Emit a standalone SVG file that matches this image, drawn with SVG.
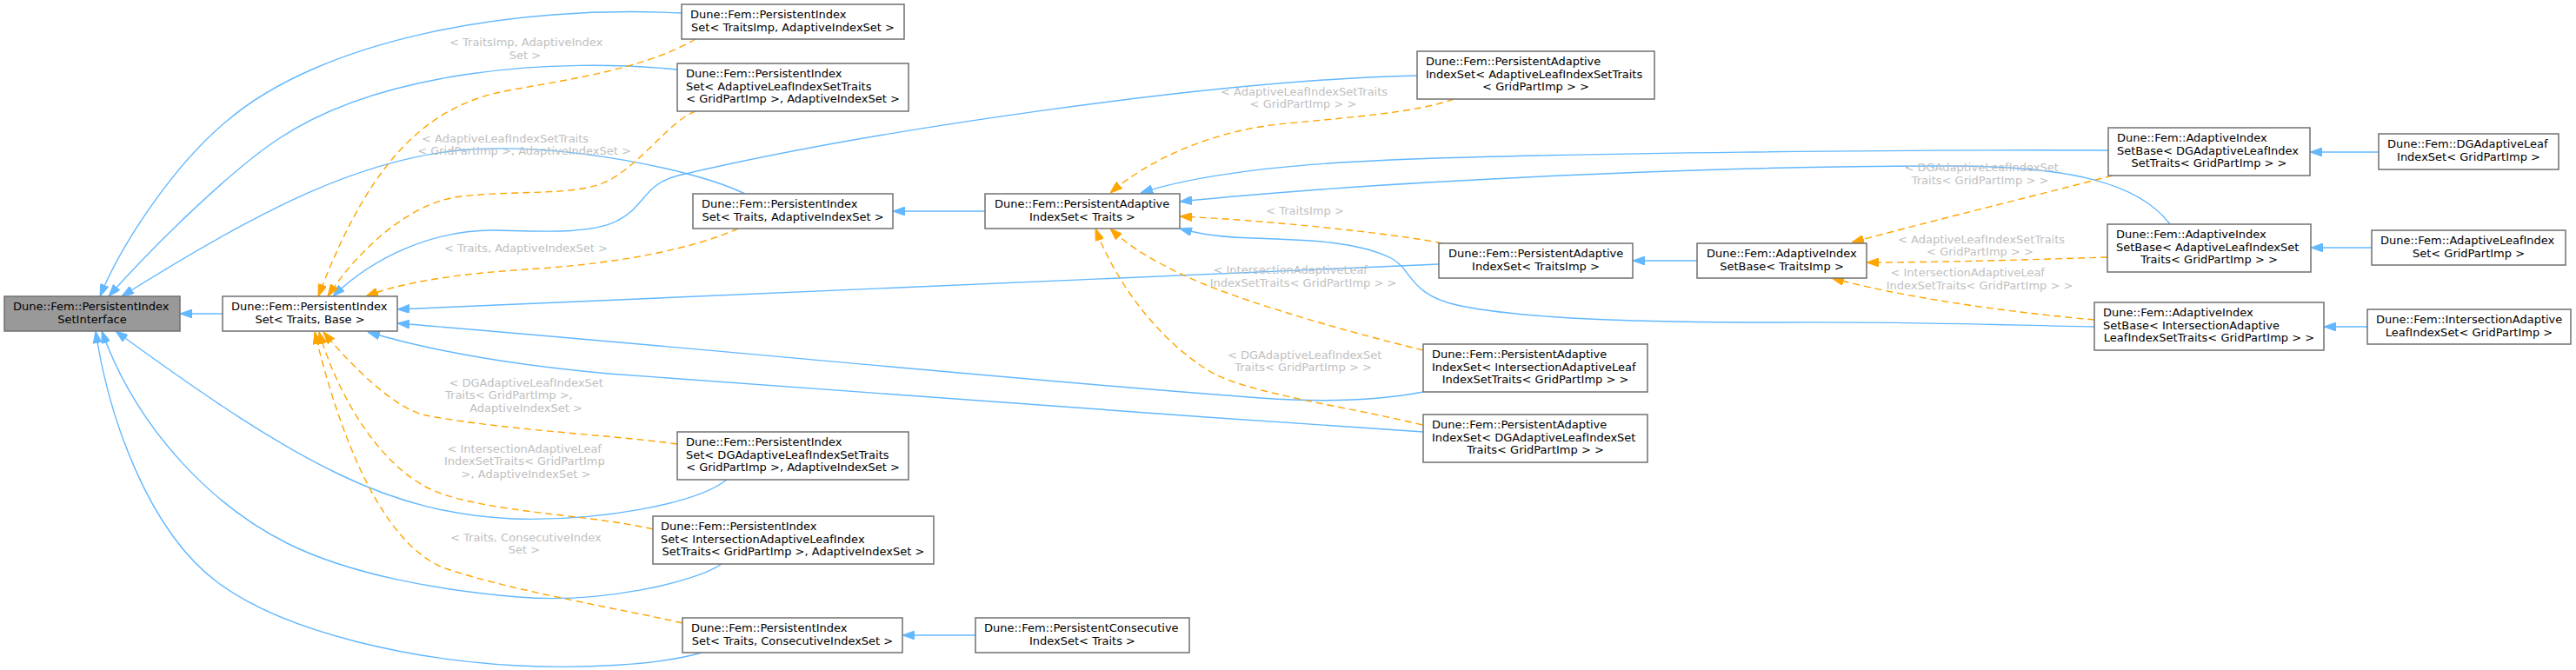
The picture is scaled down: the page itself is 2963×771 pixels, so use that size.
<svg xmlns="http://www.w3.org/2000/svg" width="2963" height="771" viewBox="0 0 2963 771">
<style>
.node rect{fill:#ffffff;stroke:#707070;stroke-width:1.5}
.node.main rect{fill:#999999}
text{font-family:"DejaVu Sans","Liberation Sans",sans-serif;font-size:13px;fill:#000000}
.mid{text-anchor:middle}
.lbl text{fill:#C0C0C0}
.e{fill:none;stroke:#63B8FF;stroke-width:1.4;marker-end:url(#ab)}
.t{fill:none;stroke:#FFA500;stroke-width:1.4;stroke-dasharray:8,5;marker-end:url(#ao)}
</style>
<defs>
<marker id="ab" viewBox="0 0 14 10" refX="14" refY="5" markerWidth="14" markerHeight="10" markerUnits="userSpaceOnUse" orient="auto"><path d="M0,0 L14,5 L0,10 Z" fill="#63B8FF" stroke="#63B8FF" stroke-width="1"/></marker>
<marker id="ao" viewBox="0 0 14 10" refX="14" refY="5" markerWidth="14" markerHeight="10" markerUnits="userSpaceOnUse" orient="auto"><path d="M0,0 L14,5 L0,10 Z" fill="#FFA500" stroke="#FFA500" stroke-width="1"/></marker>
</defs>
<rect x="0" y="0" width="2963" height="771" fill="#ffffff"/>
<g id="connectors">
<path class="e" d="M256,361 L207,361"/>
<path class="e" d="M784,15 C590,5 370,45 260,140 C200,190 140,280 115,341"/>
<path class="e" d="M779,80 C640,66 440,80 320,160 C260,200 170,290 125,341"/>
<path class="e" d="M857,223 C800,195 650,165 540,172 C420,180 300,240 140,341"/>
<path class="e" d="M836,552 C800,580 690,600 590,597 C450,590 350,540 133,381"/>
<path class="e" d="M830,649 C800,670 690,695 596,687 C500,679 400,660 330,625 C250,585 160,500 117,381"/>
<path class="e" d="M807,751 C760,765 670,770 596,766 C480,760 330,730 250,670 C170,610 125,480 110,381"/>
<path class="e" d="M1630,87 C1400,92 1000,150 780,202 C740,212 742,238 710,254 C680,270 620,266 570,265 C500,264 430,295 383,341"/>
<path class="e" d="M1133,243 L1027,243"/>
<path class="e" d="M1655,304 L457,356"/>
<path class="e" d="M1637,451 C1580,462 1520,463 1450,458 C1200,440 800,400 457,372"/>
<path class="e" d="M1637,497 C1300,474 900,447 700,430 C600,421 500,405 423,382"/>
<path class="e" d="M2425,173 C2200,172 1800,176 1600,184 C1480,189 1380,200 1312,222"/>
<path class="e" d="M2496,258 C2460,210 2380,192 2250,191 C2000,190 1600,207 1357,232"/>
<path class="e" d="M2409,376 C2300,374 2200,370 2050,371 C1900,371 1760,368 1680,352 C1620,340 1625,310 1600,297 C1560,277 1500,276 1440,274 C1400,273 1375,268 1357,263"/>
<path class="e" d="M1952,300 L1878,300"/>
<path class="e" d="M2736,175 L2657,175"/>
<path class="e" d="M2728,285 L2658,285"/>
<path class="e" d="M2723,376 L2673,376"/>
<path class="e" d="M1122,731 L1038,731"/>
<path class="t" d="M800,45 C740,80 650,92 580,105 C480,125 420,200 366,341"/>
<path class="t" d="M800,128 C770,140 745,180 705,205 C670,227 600,218 530,226 C470,233 410,290 377,341"/>
<path class="t" d="M849,263 C800,285 720,302 620,309 C540,314 470,322 421,341"/>
<path class="t" d="M779,511 C700,500 580,495 490,478 C450,470 395,410 372,382"/>
<path class="t" d="M751,609 C680,592 560,590 500,565 C440,540 390,460 367,382"/>
<path class="t" d="M785,717 C720,702 590,680 515,655 C440,630 390,500 362,382"/>
<path class="t" d="M1672,114 C1630,130 1540,136 1470,143 C1390,152 1320,185 1277,222"/>
<path class="t" d="M1659,280 C1600,268 1450,253 1357,249"/>
<path class="t" d="M1637,403 C1550,382 1440,350 1380,325 C1330,303 1300,285 1277,263"/>
<path class="t" d="M1636,489 C1560,470 1450,455 1400,432 C1340,400 1285,330 1260,263"/>
<path class="t" d="M2430,202 C2330,228 2230,252 2130,279"/>
<path class="t" d="M2424,296 C2330,299 2230,302 2147,302"/>
<path class="t" d="M2409,368 C2320,360 2200,345 2107,320"/>
<g class="lbl">
<text x="517" y="53.3">&lt; TraitsImp, AdaptiveIndex</text>
<text class="mid" x="604" y="67.7">Set &gt;</text>
<text x="485" y="164">&lt; AdaptiveLeafIndexSetTraits</text>
<text class="mid" x="603" y="178.3">&lt; GridPartImp &gt;, AdaptiveIndexSet &gt;</text>
<text class="mid" x="605" y="290.3">&lt; Traits, AdaptiveIndexSet &gt;</text>
<text x="516.5" y="445">&lt; DGAdaptiveLeafIndexSet</text>
<text x="512" y="459.3">Traits&lt; GridPartImp &gt;,</text>
<text class="mid" x="605" y="474">AdaptiveIndexSet &gt;</text>
<text x="514.5" y="520.7">&lt; IntersectionAdaptiveLeaf</text>
<text x="511" y="535.3">IndexSetTraits&lt; GridPartImp</text>
<text class="mid" x="605" y="550">&gt;, AdaptiveIndexSet &gt;</text>
<text x="518" y="622.7">&lt; Traits, ConsecutiveIndex</text>
<text class="mid" x="603" y="637">Set &gt;</text>
<text x="1404" y="110">&lt; AdaptiveLeafIndexSetTraits</text>
<text class="mid" x="1499" y="124">&lt; GridPartImp &gt; &gt;</text>
<text class="mid" x="1501" y="247.3">&lt; TraitsImp &gt;</text>
<text x="1395.5" y="315">&lt; IntersectionAdaptiveLeaf</text>
<text class="mid" x="1499" y="330">IndexSetTraits&lt; GridPartImp &gt; &gt;</text>
<text x="1412" y="412.7">&lt; DGAdaptiveLeafIndexSet</text>
<text class="mid" x="1499" y="427.3">Traits&lt; GridPartImp &gt; &gt;</text>
<text x="2190.5" y="196.7">&lt; DGAdaptiveLeafIndexSet</text>
<text class="mid" x="2277.5" y="211.7">Traits&lt; GridPartImp &gt; &gt;</text>
<text x="2183" y="280">&lt; AdaptiveLeafIndexSetTraits</text>
<text class="mid" x="2277.5" y="294.3">&lt; GridPartImp &gt; &gt;</text>
<text x="2174.5" y="318.3">&lt; IntersectionAdaptiveLeaf</text>
<text class="mid" x="2277" y="333.3">IndexSetTraits&lt; GridPartImp &gt; &gt;</text>
</g>
</g>
<g id="N0" class="node main"><rect x="5" y="341" width="202" height="40"/><text x="15" y="357.3">Dune::Fem::PersistentIndex</text><text class="mid" x="106" y="371.6">SetInterface</text></g>
<g id="N1" class="node"><rect x="256" y="341" width="201" height="40"/><text x="266" y="357.3">Dune::Fem::PersistentIndex</text><text class="mid" x="356.5" y="371.6">Set&lt; Traits, Base &gt;</text></g>
<g id="N2" class="node"><rect x="784" y="5" width="256" height="40"/><text x="794" y="21.3">Dune::Fem::PersistentIndex</text><text class="mid" x="912" y="35.6">Set&lt; TraitsImp, AdaptiveIndexSet &gt;</text></g>
<g id="N3" class="node"><rect x="779" y="73" width="266" height="55"/><text x="789" y="89.3">Dune::Fem::PersistentIndex</text><text x="789" y="103.6">Set&lt; AdaptiveLeafIndexSetTraits</text><text class="mid" x="912" y="117.9">&lt; GridPartImp &gt;, AdaptiveIndexSet &gt;</text></g>
<g id="N4" class="node"><rect x="797" y="223" width="230" height="40"/><text x="807" y="239.3">Dune::Fem::PersistentIndex</text><text class="mid" x="912" y="253.6">Set&lt; Traits, AdaptiveIndexSet &gt;</text></g>
<g id="N5" class="node"><rect x="779" y="497" width="266" height="55"/><text x="789" y="513.3">Dune::Fem::PersistentIndex</text><text x="789" y="527.6">Set&lt; DGAdaptiveLeafIndexSetTraits</text><text class="mid" x="912" y="541.9">&lt; GridPartImp &gt;, AdaptiveIndexSet &gt;</text></g>
<g id="N6" class="node"><rect x="751" y="594" width="323" height="55"/><text x="760" y="610.3">Dune::Fem::PersistentIndex</text><text x="760" y="624.6">Set&lt; IntersectionAdaptiveLeafIndex</text><text class="mid" x="912.5" y="638.9">SetTraits&lt; GridPartImp &gt;, AdaptiveIndexSet &gt;</text></g>
<g id="N7" class="node"><rect x="785" y="711" width="253" height="40"/><text x="795" y="727.3">Dune::Fem::PersistentIndex</text><text class="mid" x="911.5" y="741.6">Set&lt; Traits, ConsecutiveIndexSet &gt;</text></g>
<g id="N8" class="node"><rect x="1630" y="59" width="273" height="55"/><text x="1640" y="75.3">Dune::Fem::PersistentAdaptive</text><text x="1640" y="89.6">IndexSet&lt; AdaptiveLeafIndexSetTraits</text><text class="mid" x="1766.5" y="103.9">&lt; GridPartImp &gt; &gt;</text></g>
<g id="N9" class="node"><rect x="1133" y="223" width="224" height="40"/><text x="1144" y="239.3">Dune::Fem::PersistentAdaptive</text><text class="mid" x="1245" y="253.6">IndexSet&lt; Traits &gt;</text></g>
<g id="N10" class="node"><rect x="1655" y="280" width="223" height="40"/><text x="1666" y="296.3">Dune::Fem::PersistentAdaptive</text><text class="mid" x="1766.5" y="310.6">IndexSet&lt; TraitsImp &gt;</text></g>
<g id="N11" class="node"><rect x="1952" y="280" width="195" height="40"/><text x="1963" y="296.3">Dune::Fem::AdaptiveIndex</text><text class="mid" x="2049.5" y="310.6">SetBase&lt; TraitsImp &gt;</text></g>
<g id="N12" class="node"><rect x="1637" y="396" width="258" height="55"/><text x="1647" y="412.3">Dune::Fem::PersistentAdaptive</text><text x="1647" y="426.6">IndexSet&lt; IntersectionAdaptiveLeaf</text><text class="mid" x="1766" y="440.9">IndexSetTraits&lt; GridPartImp &gt; &gt;</text></g>
<g id="N13" class="node"><rect x="1637" y="477" width="258" height="55"/><text x="1647" y="493.3">Dune::Fem::PersistentAdaptive</text><text x="1647" y="507.6">IndexSet&lt; DGAdaptiveLeafIndexSet</text><text class="mid" x="1766" y="521.9">Traits&lt; GridPartImp &gt; &gt;</text></g>
<g id="N14" class="node"><rect x="1122" y="711" width="246" height="40"/><text x="1132" y="727.3">Dune::Fem::PersistentConsecutive</text><text class="mid" x="1245" y="741.6">IndexSet&lt; Traits &gt;</text></g>
<g id="N15" class="node"><rect x="2425" y="147" width="232" height="55"/><text x="2435" y="163.3">Dune::Fem::AdaptiveIndex</text><text x="2435" y="177.6">SetBase&lt; DGAdaptiveLeafIndex</text><text class="mid" x="2541" y="191.9">SetTraits&lt; GridPartImp &gt; &gt;</text></g>
<g id="N16" class="node"><rect x="2424" y="258" width="234" height="55"/><text x="2434" y="274.3">Dune::Fem::AdaptiveIndex</text><text x="2434" y="288.6">SetBase&lt; AdaptiveLeafIndexSet</text><text class="mid" x="2541" y="302.9">Traits&lt; GridPartImp &gt; &gt;</text></g>
<g id="N17" class="node"><rect x="2409" y="348" width="264" height="55"/><text x="2419" y="364.3">Dune::Fem::AdaptiveIndex</text><text x="2419" y="378.6">SetBase&lt; IntersectionAdaptive</text><text class="mid" x="2541" y="392.9">LeafIndexSetTraits&lt; GridPartImp &gt; &gt;</text></g>
<g id="N18" class="node"><rect x="2736" y="154" width="207" height="41"/><text x="2746" y="170.3">Dune::Fem::DGAdaptiveLeaf</text><text class="mid" x="2839.5" y="184.6">IndexSet&lt; GridPartImp &gt;</text></g>
<g id="N19" class="node"><rect x="2728" y="265" width="223" height="40"/><text x="2738" y="281.3">Dune::Fem::AdaptiveLeafIndex</text><text class="mid" x="2839.5" y="295.6">Set&lt; GridPartImp &gt;</text></g>
<g id="N20" class="node"><rect x="2723" y="356" width="234" height="40"/><text x="2733" y="372.3">Dune::Fem::IntersectionAdaptive</text><text class="mid" x="2840" y="386.6">LeafIndexSet&lt; GridPartImp &gt;</text></g>
</svg>
